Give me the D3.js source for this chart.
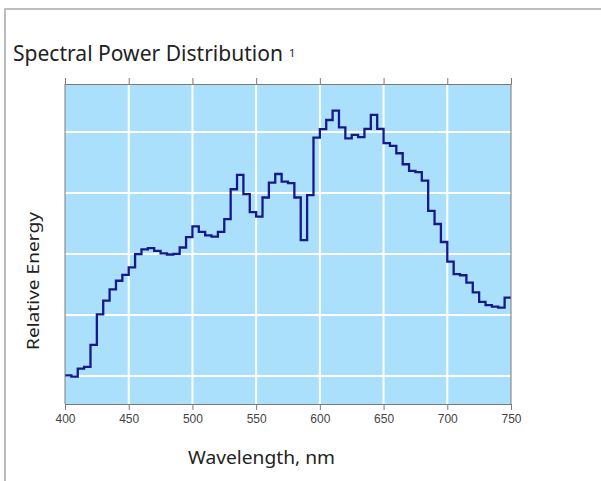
<!DOCTYPE html>
<html>
<head>
<meta charset="utf-8">
<script src="https://cdn.jsdelivr.net/npm/d3@7"></script>
<style>
    body { margin: 0; background: #fff; }
    svg { display: block; }
</style>
</head>
<body>
<div id="chart"></div>
<script>
// wavelength steps, 5 nm wide, starting at 400 nm
var wavelengths = d3.range(400, 750, 5);
var energy = [
    20.2, 19.8, 22.4, 23.0, 30.2, 40.2, 44.7, 48.4, 51.2, 53.1,
    55.6, 59.9, 61.5, 61.9, 61.0, 60.2, 59.8, 60.0, 62.1, 65.5,
    69.0, 67.2, 66.1, 65.7, 67.2, 71.4, 81.2, 85.9, 79.6, 73.7,
    72.2, 78.5, 83.4, 86.2, 83.7, 83.2, 78.5, 64.5, 79.3, 98.1,
    100.9, 103.9, 107.0, 101.5, 97.9, 99.0, 98.3, 101.0, 105.6, 101.0,
    96.3, 95.4, 93.0, 89.4, 87.2, 86.8, 84.0, 74.1, 69.8, 63.9,
    57.5, 53.4, 53.0, 50.6, 47.4, 44.3, 43.2, 42.7, 42.4, 45.7
];
var xTicks = [400, 450, 500, 550, 600, 650, 700, 750];
var yGrid = [20, 40, 60, 80, 100];

function drawChart() {
    var W = 601, H = 481;
    var pLeft = 65, pRight = 511, pTop = 84, pBottom = 404;
    var axisColor = '#7a7a7a';

    var svg = d3.select('#chart').append('svg')
        .attr('width', W).attr('height', H);

    // outer frame (top and left only)
    svg.append('path')
        .attr('d', 'M5,' + H + 'V9H' + W)
        .attr('fill', 'none')
        .attr('stroke', '#bdbdbd')
        .attr('stroke-width', 2);

    var x = d3.scaleLinear().domain([400, 750]).range([pLeft, pRight]);
    var y = d3.scaleLinear().domain([10.8, 115.7]).range([pBottom, pTop]);

    svg.append('rect')
        .attr('x', pLeft).attr('y', pTop)
        .attr('width', pRight - pLeft).attr('height', pBottom - pTop)
        .attr('fill', '#abe0fd');

    var grid = svg.append('g').attr('class', 'grid');
    grid.selectAll('line.v')
        .data(xTicks.slice(1, -1))
        .enter().append('line')
        .attr('class', 'v')
        .attr('x1', function (d) { return x(d); })
        .attr('x2', function (d) { return x(d); })
        .attr('y1', pTop).attr('y2', pBottom);
    grid.selectAll('line.h')
        .data(yGrid)
        .enter().append('line')
        .attr('class', 'h')
        .attr('y1', function (d) { return y(d); })
        .attr('y2', function (d) { return y(d); })
        .attr('x1', pLeft).attr('x2', pRight);
    grid.selectAll('line')
        .attr('stroke', '#fff')
        .attr('stroke-width', 2);

    // step line
    var pts = wavelengths.map(function (w, i) { return [w, energy[i]]; });
    pts.push([750, energy[energy.length - 1]]);
    var line = d3.line()
        .x(function (d) { return x(d[0]); })
        .y(function (d) { return y(d[1]); })
        .curve(d3.curveStepAfter);
    svg.append('path')
        .datum(pts)
        .attr('d', line)
        .attr('fill', 'none')
        .attr('stroke', '#17198a')
        .attr('stroke-width', 2.3);

    // axes
    var gx = svg.append('g')
        .attr('transform', 'translate(0,' + pBottom + ')')
        .call(d3.axisBottom(x).tickValues(xTicks).tickSize(6).tickPadding(4));
    gx.select('.domain').attr('stroke', axisColor);
    gx.selectAll('.tick line').attr('stroke', axisColor);
    gx.selectAll('.tick text')
        .attr('fill', '#444')
        .style('font-family', '"Liberation Sans", Arial, sans-serif')
        .style('font-size', '12px');

    var gTop = svg.append('g')
        .attr('transform', 'translate(0,' + pTop + ')')
        .call(d3.axisTop(x).tickValues(xTicks).tickSize(6).tickFormat(''));
    gTop.select('.domain').attr('stroke', axisColor);
    gTop.selectAll('.tick line').attr('stroke', axisColor);

    svg.append('line')
        .attr('x1', pLeft).attr('x2', pLeft).attr('y1', pTop).attr('y2', pBottom)
        .attr('stroke', axisColor);
    svg.append('line')
        .attr('x1', pRight).attr('x2', pRight).attr('y1', pTop).attr('y2', pBottom)
        .attr('stroke', axisColor);

    // texts
    svg.append('text')
        .attr('x', 13).attr('y', 61)
        .attr('fill', '#222')
        .style('font-family', '"Noto Sans", sans-serif')
        .style('font-size', '21px')
        .attr('textLength', 270)
        .attr('lengthAdjust', 'spacingAndGlyphs')
        .text('Spectral Power Distribution');
    svg.append('text')
        .attr('x', 289).attr('y', 57)
        .attr('fill', '#222')
        .style('font-family', '"Noto Sans", sans-serif')
        .style('font-size', '11px')
        .text('1');

    svg.append('text')
        .attr('x', 188).attr('y', 464)
        .attr('fill', '#222')
        .style('font-family', '"Noto Sans", sans-serif')
        .style('font-size', '18px')
        .attr('textLength', 147)
        .attr('lengthAdjust', 'spacingAndGlyphs')
        .text('Wavelength, nm');

    svg.append('text')
        .attr('transform', 'translate(39,350) rotate(-90)')
        .attr('fill', '#222')
        .style('font-family', '"Noto Sans", sans-serif')
        .style('font-size', '17px')
        .attr('textLength', 138)
        .attr('lengthAdjust', 'spacingAndGlyphs')
        .text('Relative Energy');
}

drawChart();
</script>
</body>
</html>
